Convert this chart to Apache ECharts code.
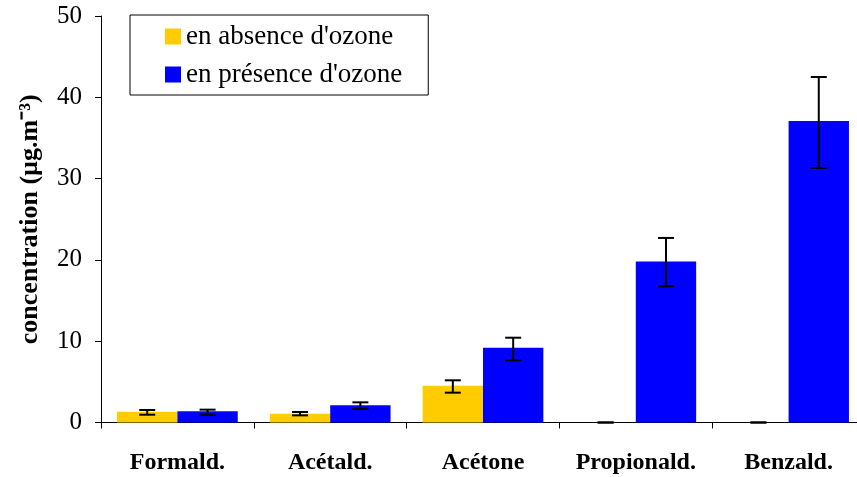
<!DOCTYPE html>
<html>
<head>
<meta charset="utf-8">
<script src="https://cdn.jsdelivr.net/npm/echarts@6/dist/echarts.min.js"></script>
<style>
  html, body { margin: 0; padding: 0; background: #fff; overflow: hidden; }
  #main { width: 865px; height: 477px; }
</style>
</head>
<body>
<div id="main"></div>
<script type="text/javascript">
    var categories   = ['Formald.', 'Acétald.', 'Acétone', 'Propionald.', 'Benzald.'];
    var absence      = [1.33, 1.08, 4.53, 0, 0];
    var presence     = [1.38, 2.11, 9.2, 19.8, 37.1];
    var absenceLow   = [0.96, 0.88, 3.67, 0, 0];
    var absenceHigh  = [1.54, 1.29, 5.19, 0, 0];
    var presenceLow  = [0.96, 1.70, 7.65, 16.75, 31.3];
    var presenceHigh = [1.58, 2.48, 10.43, 22.7, 42.5];
    var yTicks       = { min: 0, max: 50, interval: 10 };
    var legendData   = ["en absence d'ozone", "en présence d'ozone"];

    var serif = "'Liberation Serif', 'Times New Roman', serif";
    var catGap = 0.21;

    // the plot runs a few px past the right edge of the window, like the original
    var myChart = echarts.init(document.getElementById('main'));

    // error bars drawn via custom series, shifted onto each bar of the pair
    function errorSeries(low, high, side, color) {
        var data = [];
        for (var i = 0; i < categories.length; i++) {
            data.push([i, low[i], high[i]]);
        }
        return {
            type: 'custom',
            z: 10,
            silent: true,
            data: data,
            encode: { x: 0, y: [1, 2] },
            renderItem: function (params, api) {
                var band = api.size([1, 0])[0];
                var off = side * band * (1 - catGap) / 4;
                var top = api.coord([api.value(0), api.value(2)]);
                var bot = api.coord([api.value(0), api.value(1)]);
                var x = top[0] + off;
                var cap = 8;
                var st = { stroke: color, lineWidth: 2 };
                return {
                    type: 'group',
                    children: [
                        { type: 'line', shape: { x1: x, y1: top[1], x2: x, y2: bot[1] }, style: st },
                        { type: 'line', shape: { x1: x - cap, y1: top[1], x2: x + cap, y2: top[1] }, style: st },
                        { type: 'line', shape: { x1: x - cap, y1: bot[1], x2: x + cap, y2: bot[1] }, style: st }
                    ]
                };
            }
        };
    }

    var option = {
        backgroundColor: '#fff',
        animation: false,
        grid: { left: 101, top: 16, right: 0, bottom: 54.5, containLabel: false, outerBoundsMode: 'none' },
        legend: {
            data: legendData,
            orient: 'vertical',
            left: 130, top: 15,
            borderColor: '#000', borderWidth: 1,
            padding: [8, 26, 7, 35],
            itemGap: 11,
            itemWidth: 16, itemHeight: 16,
            icon: 'rect',
            textStyle: { color: '#000', fontFamily: serif, fontSize: 27 }
        },
        xAxis: {
            type: 'category',
            data: categories,
            axisLine: { show: true, lineStyle: { color: '#000', width: 1 } },
            axisTick: { show: true, length: 6, lineStyle: { color: '#000' } },
            axisLabel: { color: '#000', fontFamily: serif, fontWeight: 'bold', fontSize: 24, margin: 28, interval: 0 },
            splitLine: { show: false }
        },
        yAxis: {
            type: 'value',
            min: yTicks.min, max: yTicks.max, interval: yTicks.interval,
            name: 'concentration (µg.m⁻³)',
            nameLocation: 'middle',
            nameGap: 58,
            nameTextStyle: { color: '#000', fontFamily: serif, fontWeight: 'bold', fontSize: 26 },
            axisLine: { show: true, lineStyle: { color: '#000', width: 1 } },
            axisTick: { show: true, length: 6, lineStyle: { color: '#000' } },
            axisLabel: { color: '#000', fontFamily: serif, fontSize: 25, margin: 19 },
            splitLine: { show: false }
        },
        series: [
            { name: legendData[0], type: 'bar', data: absence, barGap: '0%', barCategoryGap: '21%', itemStyle: { color: '#FFCC00' } },
            { name: legendData[1], type: 'bar', data: presence, barGap: '0%', barCategoryGap: '21%', itemStyle: { color: '#0000FF' } },
            errorSeries(absenceLow, absenceHigh, -1, '#000'),
            errorSeries(presenceLow, presenceHigh, 1, '#000')
        ]
    };
    myChart.setOption(option);
</script>
</body>
</html>
